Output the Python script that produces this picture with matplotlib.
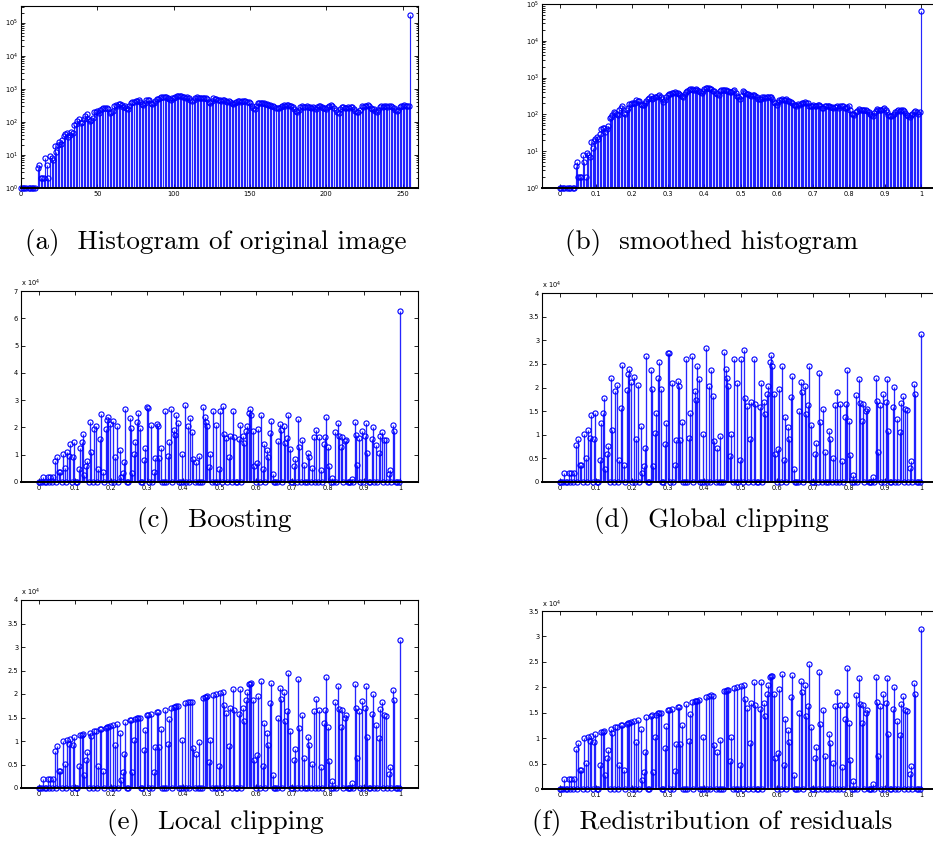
import numpy as np
import matplotlib.pyplot as plt
from matplotlib.ticker import FormatStrFormatter, MultipleLocator, LogLocator

# (a) histogram of the original image, bins 0..255
hist_orig = [
    1, 1, 1, 1, 0, 1, 1, 1, 1, 1, 0, 4, 5, 2, 2, 2,
    8, 5, 2, 9, 8, 7, 18, 12, 20, 25, 22, 28, 38, 42, 45, 35,
    40, 48, 45, 80, 88, 105, 120, 95, 100, 125, 145, 175, 120, 105, 110, 135,
    200, 205, 210, 190, 220, 240, 255, 260, 270, 240, 190, 200, 215, 310, 330, 300,
    335, 345, 320, 290, 310, 270, 250, 300, 360, 400, 410, 420, 430, 445, 400, 350,
    330, 370, 460, 470, 450, 380, 340, 360, 420, 480, 500, 520, 560, 570, 550, 560,
    530, 480, 460, 520, 540, 560, 600, 620, 590, 600, 580, 560, 540, 560, 520, 460,
    430, 460, 520, 560, 540, 530, 540, 530, 540, 520, 480, 400, 380, 420, 520, 500,
    480, 470, 460, 440, 470, 450, 430, 410, 440, 400, 380, 350, 370, 390, 420, 430,
    400, 420, 440, 430, 410, 400, 360, 300, 260, 250, 300, 360, 370, 360, 380, 360,
    350, 340, 330, 320, 300, 310, 280, 270, 260, 265, 280, 300, 320, 310, 330, 320,
    300, 310, 280, 240, 210, 200, 230, 280, 300, 290, 280, 300, 285, 280, 270, 290,
    265, 250, 280, 300, 295, 290, 270, 265, 250, 280, 300, 315, 310, 260, 220, 200,
    190, 240, 280, 285, 270, 260, 280, 270, 285, 275, 240, 210, 200, 195, 230, 295,
    290, 300, 310, 315, 300, 270, 250, 240, 210, 200, 230, 280, 295, 290, 300, 295,
    290, 300, 295, 280, 260, 220, 210, 230, 280, 310, 300, 320, 310, 300, 310, 170000,
]

# (b) smoothed histogram
hist_smooth = [
    1, 1, 1, 1, 0, 1, 1, 1, 0, 1, 1, 4, 5, 2, 2, 2,
    8, 5, 2, 9, 8, 7, 18, 12, 19, 22, 25, 22, 30, 40, 42, 44,
    34, 40, 48, 78, 85, 95, 118, 110, 100, 95, 135, 150, 170, 110, 105, 130,
    145, 190, 195, 200, 205, 210, 245, 235, 230, 190, 175, 185, 200, 235, 260, 280,
    315, 270, 280, 290, 300, 320, 335, 300, 260, 220, 250, 300, 335, 355, 360, 370,
    390, 410, 370, 390, 360, 335, 310, 300, 360, 410, 440, 460, 480, 480, 470, 460,
    480, 460, 430, 410, 390, 420, 480, 520, 520, 510, 490, 480, 440, 420, 370, 350,
    335, 420, 450, 460, 460, 450, 440, 420, 410, 415, 420, 460, 370, 310, 290, 270,
    320, 420, 400, 390, 350, 360, 330, 315, 340, 335, 310, 290, 255, 265, 270, 300,
    290, 280, 290, 300, 300, 290, 255, 220, 200, 180, 220, 240, 245, 255, 250, 245,
    255, 235, 225, 220, 210, 180, 175, 170, 190, 180, 190, 200, 200, 220, 210, 200,
    170, 165, 170, 175, 170, 165, 185, 180, 165, 150, 145, 165, 170, 168, 165, 160,
    155, 145, 155, 160, 165, 145, 170, 168, 165, 145, 150, 155, 170, 130, 105, 100,
    95, 118, 125, 140, 130, 135, 135, 130, 135, 125, 118, 100, 95, 90, 110, 125,
    140, 130, 130, 135, 140, 145, 130, 118, 95, 90, 92, 95, 105, 118, 125, 130,
    125, 130, 128, 125, 110, 95, 90, 85, 95, 105, 115, 125, 115, 105, 118, 63000,
]

# (c)-(f): only these bins are non-empty, values in units of 1e4
nz_bins = [3, 6, 8, 10, 11, 13, 14, 15, 17, 18, 20, 21, 22, 24, 25, 28, 29, 30, 31, 32,
           33, 34, 36, 37, 39, 40, 42, 43, 44, 45, 47, 48, 49, 50, 52, 54, 55, 57, 58, 59,
           60, 61, 64, 65, 66, 67, 68, 69, 70, 71, 74, 75, 76, 77, 79, 81, 82, 83, 84, 85,
           86, 89, 91, 92, 93, 95, 96, 97, 98, 101, 103, 105, 107, 108, 109, 111, 113, 116, 117, 118,
           119, 120, 121, 123, 125, 127, 128, 130, 131, 132, 134, 135, 137, 138, 141, 142, 144, 145, 146, 147,
           148, 149, 150, 151, 152, 154, 155, 157, 158, 159, 161, 162, 163, 164, 165, 169, 170, 171, 173, 174,
           175, 176, 177, 180, 181, 183, 184, 186, 187, 190, 191, 193, 194, 196, 198, 199, 201, 202, 203, 204,
           205, 207, 209, 211, 212, 213, 214, 216, 217, 221, 223, 224, 225, 226, 228, 230, 231, 232, 235, 236,
           238, 240, 241, 242, 244, 245, 247, 248, 250, 251, 255]

boost_vals = [0.2, 0.2, 0.2, 0.2, 0.78, 0.9, 0.37, 0.37, 1.02, 0.51, 1.1, 0.94, 1.41, 0.92, 1.45, 0.47, 1.24, 1.47, 1.77, 0.27,
              0.6, 0.76, 2.2, 1.1, 1.93, 2.05, 0.47, 1.57, 2.48, 0.37, 1.95, 2.28, 2.4, 2.12, 2.22, 0.92, 2.06, 1.18, 0.18, 0.33,
              0.72, 2.67, 2.36, 1.97, 0.33, 1.03, 1.46, 2.2, 2.53, 1.97, 0.8, 1.24, 2.74, 2.72, 2.09, 0.35, 0.88, 2.14, 2.04, 0.88,
              1.26, 2.6, 0.94, 1.47, 2.67, 1.92, 1.74, 2.45, 2.17, 1.02, 2.84, 2.04, 2.36, 1.82, 0.86, 0.73, 0.97, 2.75, 2.4, 2.2,
              2.04, 0.55, 1.02, 2.6, 2.09, 0.47, 2.6, 2.79, 1.77, 1.6, 0.9, 1.7, 2.6, 1.65, 1.58, 2.1, 1.7, 1.43, 1.87, 2.04,
              2.53, 2.69, 2.45, 1.87, 0.6, 0.7, 1.96, 2.45, 0.47, 1.38, 1.16, 0.92, 1.8, 2.24, 0.28, 1.5, 2.12, 1.9, 2.04, 1.43,
              1.63, 2.45, 1.21, 0.6, 0.83, 2.31, 1.28, 1.55, 0.64, 1.08, 0.91, 0.51, 1.64, 1.9, 1.66, 0.44, 1.38, 1.65, 2.37, 1.3,
              0.57, 0.15, 1.84, 2.18, 1.68, 1.29, 1.65, 1.5, 1.55, 0.1, 2.21, 1.71, 0.64, 1.63, 1.86, 1.7, 2.18, 1.08, 1.58, 2.01,
              1.34, 1.06, 1.68, 1.82, 1.55, 1.53, 0.3, 0.45, 2.08, 1.87, 6.27]

global_vals = boost_vals[:-1] + [3.14]

local_vals = [0.2, 0.2, 0.2, 0.2, 0.78, 0.9, 0.37, 0.37, 1.01, 0.51, 1.03, 0.94, 1.05, 0.92, 1.08, 0.47, 1.12, 1.13, 1.14, 0.27,
              0.6, 0.76, 1.18, 1.1, 1.21, 1.22, 0.47, 1.25, 1.26, 0.37, 1.28, 1.29, 1.3, 1.31, 1.33, 0.92, 1.36, 1.18, 0.18, 0.33,
              0.72, 1.41, 1.44, 1.45, 0.33, 1.03, 1.46, 1.49, 1.5, 1.5, 0.8, 1.24, 1.55, 1.56, 1.58, 0.35, 0.88, 1.61, 1.62, 0.88,
              1.26, 1.67, 0.94, 1.47, 1.71, 1.73, 1.73, 1.74, 1.75, 1.02, 1.8, 1.82, 1.84, 1.82, 0.86, 0.73, 0.97, 1.92, 1.93, 1.94,
              1.95, 0.55, 1.02, 1.98, 2.0, 0.47, 2.03, 2.05, 1.77, 1.6, 0.9, 1.7, 2.11, 1.65, 1.58, 2.1, 1.7, 1.43, 1.87, 2.04,
              2.21, 2.22, 2.23, 1.87, 0.6, 0.7, 1.96, 2.27, 0.47, 1.38, 1.16, 0.92, 1.8, 2.24, 0.28, 1.5, 2.12, 1.9, 2.04, 1.43,
              1.63, 2.45, 1.21, 0.6, 0.83, 2.31, 1.28, 1.55, 0.64, 1.08, 0.91, 0.51, 1.64, 1.9, 1.66, 0.44, 1.38, 1.65, 2.37, 1.3,
              0.57, 0.15, 1.84, 2.18, 1.68, 1.29, 1.65, 1.5, 1.55, 0.1, 2.21, 1.71, 0.64, 1.63, 1.86, 1.7, 2.18, 1.08, 1.58, 2.01,
              1.34, 1.06, 1.68, 1.82, 1.55, 1.53, 0.3, 0.45, 2.08, 1.87, 3.14]

captions = ['(a)  Histogram of original image', '(b)  smoothed histogram',
            '(c)  Boosting', '(d)  Global clipping',
            '(e)  Local clipping', '(f)  Redistribution of residuals']

W, H = 933, 864
fig = plt.figure(figsize=(W / 100, H / 100), dpi=100)


def px_axes(left, top, bottom, width=397):
    return fig.add_axes([left / W, 1 - bottom / H, width / W, (bottom - top) / H])


def style(ax):
    ax.tick_params(which='both', direction='in', top=True, right=True,
                   labelsize=4.8, length=3, width=0.6, pad=2)
    ax.tick_params(which='minor', length=1.8)
    for sp in ax.spines.values():
        sp.set_linewidth(0.8)
    ax.spines['bottom'].set_linewidth(1.4)


def draw_stem(ax, x, y, log=False):
    x = np.asarray(x, dtype=float)
    y = np.asarray(y, dtype=float)
    if log:
        keep = y > 0
        m, s, b = ax.stem(x[keep], y[keep], linefmt='b-', markerfmt='bo', basefmt=' ', bottom=0.01)
        s.set_linewidth(0.85)
    else:
        m, s, b = ax.stem(x, y, linefmt='b-', markerfmt='bo', basefmt='k-')
        b.set_linewidth(1.4)
        s.set_linewidth(0.95)
    s.set_alpha(0.85)
    m.set_markerfacecolor('none')
    m.set_markeredgecolor('b')
    m.set_markersize(3.7)
    m.set_markeredgewidth(0.8)
    m.set_clip_on(False)


def full_series(vals):
    y = np.zeros(256)
    y[nz_bins] = vals
    return y


bins = np.arange(256)
xn = bins / 255.0

# (a)
ax = px_axes(21, 6, 188)
draw_stem(ax, bins, hist_orig, log=True)
ax.set_yscale('log')
ax.set_ylim(1, 10 ** 5.5)
ax.set_xlim(0, 260)
ax.set_xticks([0, 50, 100, 150, 200, 250])
ax.yaxis.set_minor_locator(LogLocator(subs=np.arange(2, 10)))
style(ax)

# (b)
ax = px_axes(542, 4, 188)
draw_stem(ax, xn, hist_smooth, log=True)
ax.set_yscale('log')
ax.set_ylim(1, 1e5)
ax.set_xlim(-0.05, 1.05)
ax.xaxis.set_major_locator(MultipleLocator(0.1))
ax.xaxis.set_major_formatter(FormatStrFormatter('%g'))
ax.yaxis.set_minor_locator(LogLocator(subs=np.arange(2, 10)))
style(ax)

# (c)-(f)
lin_panels = [
    (21, 291, 482, boost_vals, 7, 1),
    (542, 293, 482, global_vals, 4, 0.5),
    (21, 600, 788, local_vals, 4, 0.5),
    (542, 611, 789, local_vals, 3.5, 0.5),
]
for left, top, bottom, vals, ytop, ystep in lin_panels:
    ax = px_axes(left, top, bottom)
    draw_stem(ax, xn, full_series(vals))
    ax.set_xlim(-0.05, 1.05)
    ax.set_ylim(0, ytop)
    ax.xaxis.set_major_locator(MultipleLocator(0.1))
    ax.xaxis.set_major_formatter(FormatStrFormatter('%g'))
    ax.yaxis.set_major_locator(MultipleLocator(ystep))
    ax.yaxis.set_major_formatter(FormatStrFormatter('%g'))
    style(ax)
    ax.text(0, 1.008, r'x 10$^4$', transform=ax.transAxes, fontsize=4.8,
            ha='left', va='bottom')

# captions
cap_pos = [(216, 242), (712, 242), (214, 520), (711, 520), (215, 823), (712, 823)]
for (cx, cy), txt in zip(cap_pos, captions):
    fig.text(cx / W, 1 - cy / H, txt, fontsize=19.5, family='cmr10',
             ha='center', va='center')

fig.savefig('out.png', dpi=100)
